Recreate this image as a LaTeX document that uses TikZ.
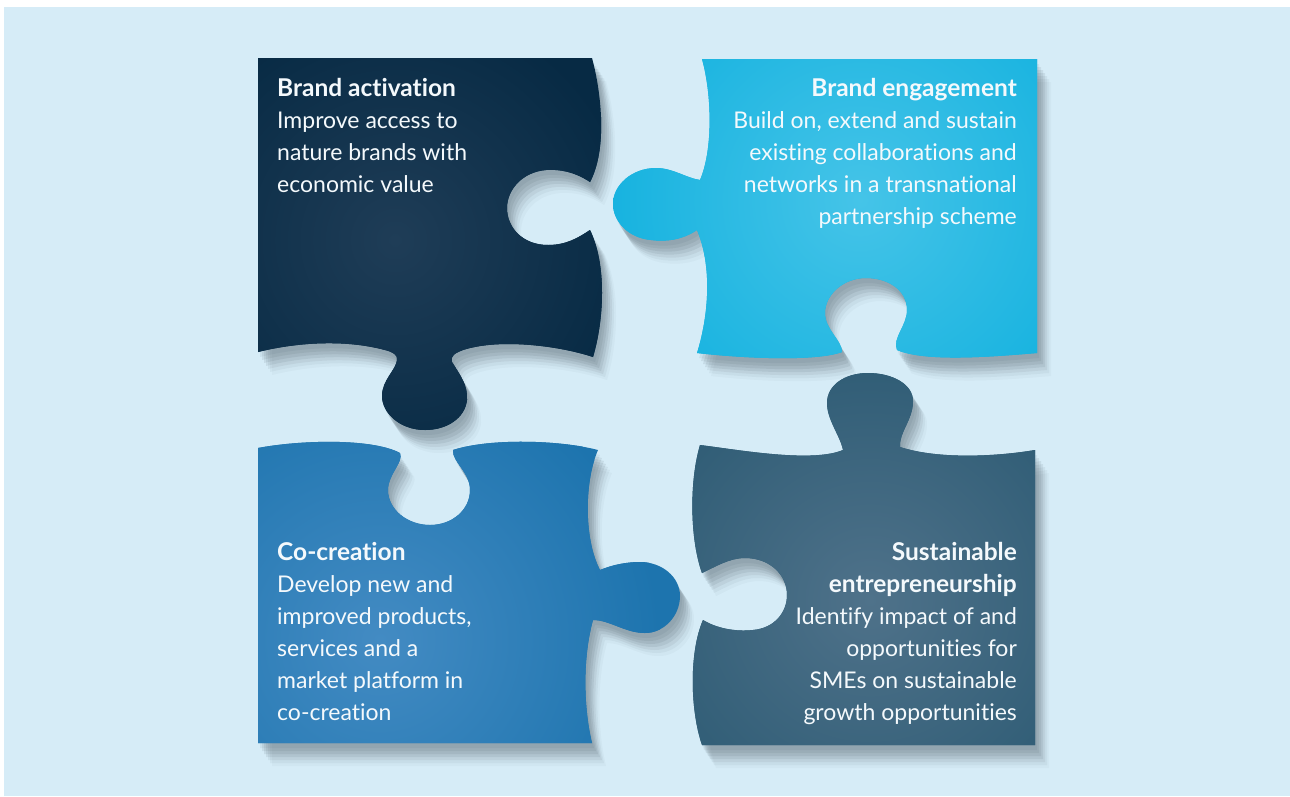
\documentclass[tikz,border=0pt]{standalone}
\usepackage{fontspec}
\setmainfont{Lato}[Ligatures=NoCommon]
\definecolor{bgc}{HTML}{D6ECF7}
\definecolor{shadowc}{HTML}{46545E}
\definecolor{navyE}{HTML}{072A44}
\definecolor{navyH}{HTML}{1F3D57}
\definecolor{cyanE}{HTML}{15B2DF}
\definecolor{cyanH}{HTML}{45C4E8}
\definecolor{blueE}{HTML}{1D74AE}
\definecolor{blueH}{HTML}{438BC3}
\definecolor{tealE}{HTML}{2D5B74}
\definecolor{tealH}{HTML}{4F728A}
\definecolor{txtc}{HTML}{F4F9FC}
\tikzset{
  txt/.style={text=txtc, inner sep=0pt, font=\fontsize{23}{32}\selectfont},
}
\newcommand\ttl[1]{{\fontsize{24.5}{32}\selectfont\bfseries #1}}
\def\pathNavy{(258,58) -- (592,58) .. controls (602,95) and (607,150) .. (590,182) .. controls (575,172) and (560,169) .. (546,170) .. controls (522,172) and (507,190) .. (507,208) .. controls (507,228) and (523,245) .. (548,245) .. controls (566,245) and (578,238) .. (590,230) .. controls (607,265) and (604,320) .. (593,357) .. controls (560,346) and (500,338) .. (463,350) .. controls (455,353) and (450,356) .. (452,362) .. controls (460,375) and (468,385) .. (467,400) .. controls (465,418) and (447,430) .. (425,430) .. controls (400,430) and (382,413) .. (382,396) .. controls (382,380) and (396,370) .. (397,360) .. controls (398,355) and (393,352) .. (385,350) .. controls (340,338) and (290,344) .. (258,352) -- cycle}
\def\pathCyan{(702,59) -- (1037,59) -- (1037,353) .. controls (990,357) and (925,362) .. (897,350) .. controls (892,338) and (907,326) .. (907,310) .. controls (907,290) and (888,278) .. (866,278) .. controls (843,278) and (825,295) .. (825,313) .. controls (825,330) and (842,340) .. (842,352) .. controls (815,362) and (740,358) .. (697,353) .. controls (708,318) and (713,268) .. (697,230) .. controls (682,240) and (666,242) .. (651,240) .. controls (628,238) and (613,221) .. (613,204) .. controls (613,185) and (632,168) .. (656,168) .. controls (673,168) and (686,178) .. (700,180) .. controls (713,150) and (712,95) .. (702,59) -- cycle}
\def\pathBlue{(258,448) .. controls (300,440) and (372,438) .. (400,453) .. controls (404,462) and (388,474) .. (388,490) .. controls (388,510) and (408,525) .. (430,525) .. controls (452,525) and (470,510) .. (470,490) .. controls (470,472) and (452,462) .. (453,450) .. controls (490,438) and (560,440) .. (598,450) .. controls (584,482) and (584,540) .. (600,570) .. controls (612,565) and (626,562) .. (640,562) .. controls (662,562) and (680,577) .. (680,596) .. controls (680,616) and (664,633) .. (645,633) .. controls (625,633) and (610,620) .. (593,620) .. controls (582,660) and (584,710) .. (592,743) -- (258,743) -- cycle}
\def\pathTeal{(700,445) .. controls (740,450) and (812,463) .. (843,450) .. controls (840,435) and (827,420) .. (827,403) .. controls (827,385) and (845,373) .. (868,373) .. controls (892,373) and (913,384) .. (913,401) .. controls (913,420) and (899,432) .. (900,447) .. controls (940,460) and (1000,456) .. (1035,450) -- (1035,745) -- (702,745) .. controls (690,710) and (689,652) .. (703,620) .. controls (716,628) and (735,632) .. (753,630) .. controls (775,628) and (787,612) .. (787,595) .. controls (787,575) and (770,558) .. (745,558) .. controls (729,558) and (715,567) .. (702,573) .. controls (690,540) and (689,482) .. (700,445) -- cycle}
\newcommand\pieceshadow[1]{%
  \foreach \dx/\dy/\op in {2/5/0.08, 4/8/0.10, 6/11/0.11, 8/14/0.10, 10/17/0.08, 12/20/0.06, 14/23/0.04}{%
    \fill[shadowc, opacity=\op, shift={(\dx,\dy)}] #1;}}
\begin{document}
\begin{tikzpicture}[x=1pt, y=-1pt]
\useasboundingbox (0,0) rectangle (1290,796);
\fill[white] (0,0) rectangle (1290,796);
\fill[bgc] (4,7) rectangle (1290,796);
% shadows
\pieceshadow{\pathNavy}
\pieceshadow{\pathCyan}
\pieceshadow{\pathBlue}
\pieceshadow{\pathTeal}
% pieces
\begin{scope}
  \clip \pathNavy;
  \fill[navyE] (250,50) rectangle (620,440);
  \shade[inner color=navyH, outer color=navyE] (395,240) circle[radius=240];
\end{scope}
\begin{scope}
  \clip \pathCyan;
  \fill[cyanE] (600,50) rectangle (1045,365);
  \shade[inner color=cyanH, outer color=cyanE] (860,200) circle[radius=260];
\end{scope}
\begin{scope}
  \clip \pathBlue;
  \fill[blueE] (250,430) rectangle (690,750);
  \shade[inner color=blueH, outer color=blueE] (380,640) circle[radius=280];
\end{scope}
\begin{scope}
  \clip \pathTeal;
  \fill[tealE] (680,365) rectangle (1045,750);
  \shade[inner color=tealH, outer color=tealE] (870,600) circle[radius=260];
\end{scope}
% texts (anchor = baseline of the last line)
\node[txt, align=left, anchor=base west] (tA) at (277,192)
  {\ttl{Brand activation}\\Improve access to\\nature brands with\\economic value};
\node[txt, align=right, anchor=base east] (tB) at (1017,224)
  {\ttl{Brand engagement}\\Build on, extend and sustain\\existing collaborations and\\networks in a transnational\\partnership scheme};
\node[txt, align=left, anchor=base west] (tC) at (277,720)
  {\ttl{Co-creation}\\Develop new and\\improved products,\\services and a\\market platform in\\co-creation};
\node[txt, align=right, anchor=base east] (tD) at (1017,720)
  {\ttl{Sustainable}\\\ttl{entrepreneurship}\\Identify impact of and\\opportunities for\\SMEs on sustainable\\growth opportunities};
\end{tikzpicture}
\end{document}
